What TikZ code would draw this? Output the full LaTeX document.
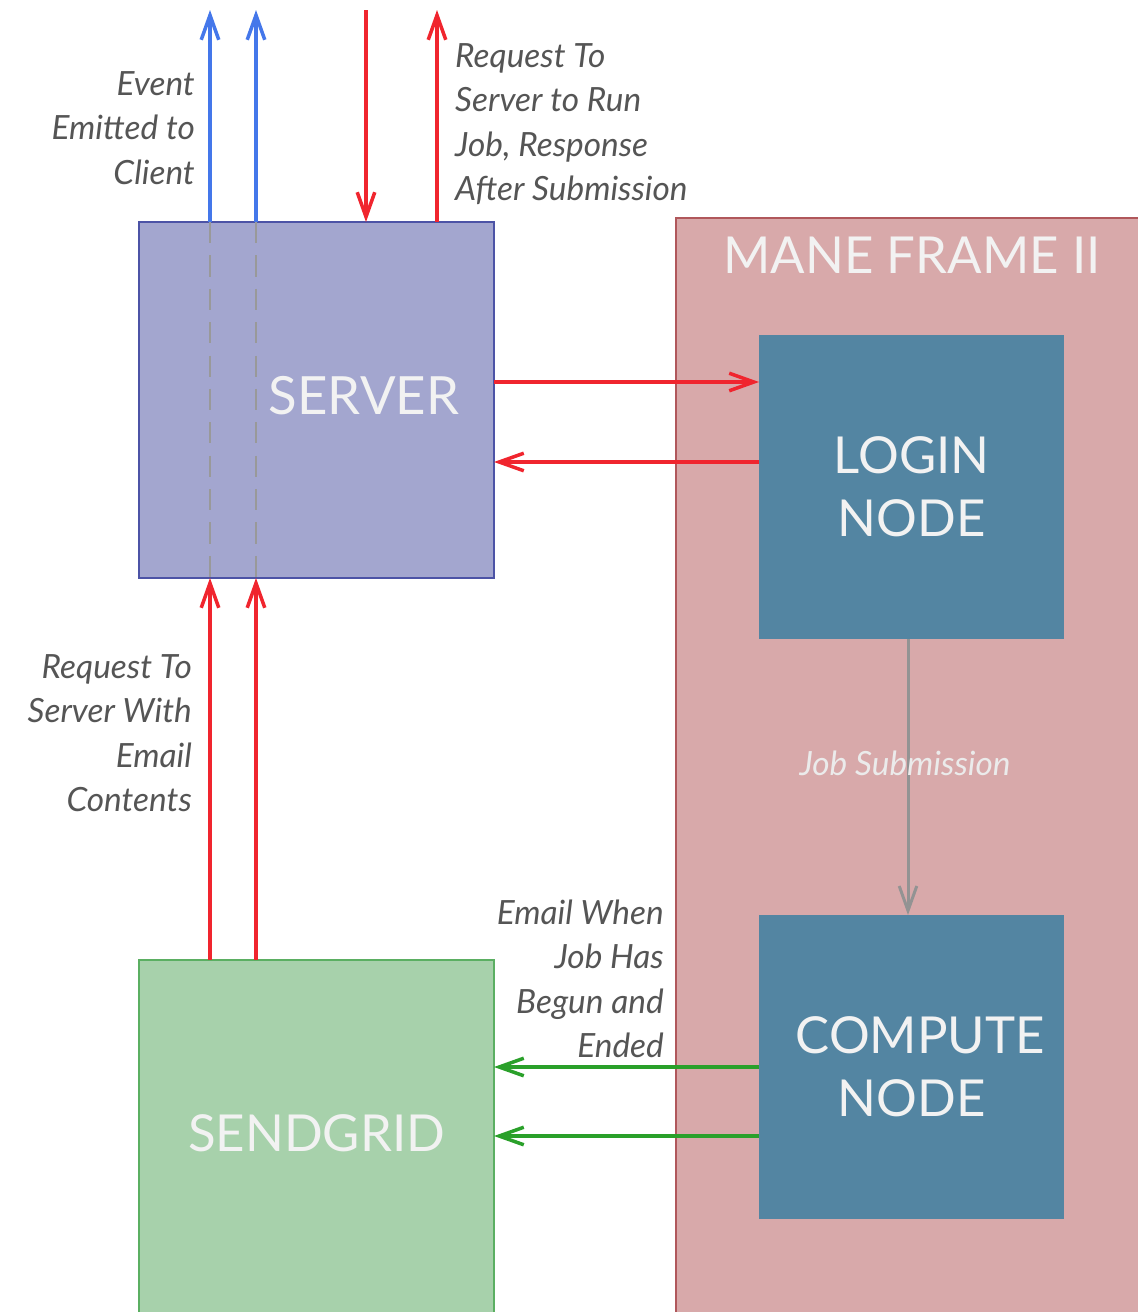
\documentclass[tikz,border=0pt]{standalone}
\usepackage{fontspec}
\setmainfont{Lato}
\usetikzlibrary{arrows.meta,positioning}
\definecolor{serverfill}{HTML}{A3A6CF}
\definecolor{serverline}{HTML}{4C53A6}
\definecolor{framefill}{HTML}{D8A9AA}
\definecolor{frameline}{HTML}{B0575B}
\definecolor{nodefill}{HTML}{5385A2}
\definecolor{gridfill}{HTML}{A7D1AB}
\definecolor{gridline}{HTML}{5BAF62}
\definecolor{eventblue}{HTML}{4477EA}
\definecolor{requestred}{HTML}{F0252E}
\definecolor{mailgreen}{HTML}{2AA02A}
\definecolor{labelgray}{HTML}{555555}

\begin{document}
\begin{tikzpicture}[x=0.02cm,y=-0.02cm]
% Box styles
\tikzstyle{big box}=[rectangle,draw,line width=0.8pt,inner sep=0,outer sep=0];
\tikzstyle{box text}=[text=white!95!black,font=\fontsize{29}{36}\selectfont,align=center];
\tikzstyle{note}=[text=labelgray,font=\itshape\fontsize{19}{25.3}\selectfont];
% Arrow styles
\tikzstyle{flow}=[line width=2pt,-{Straight Barb[length=14pt,width=10pt]}];
\tikzstyle{dash lane}=[gray!80,line width=1.4pt,dash pattern=on 12pt off 7pt];
\useasboundingbox (0,0) rectangle (1138,1312);
\clip (0,0) rectangle (1138,1312);
% The boxes
\node(server)[big box,draw=serverline,fill=serverfill,minimum width=7.1cm,minimum height=7.12cm] at (316.5,400){};
\node(server text)[box text] at (364,396){\fontsize{30}{36}\selectfont SERVER};
\node(mane)[big box,draw=frameline,fill=framefill,minimum width=9.48cm,minimum height=22.24cm] at (913,774){};
\node(mane text)[box text] at (912,255){MANE FRAME II};
\node(login)[big box,draw=none,fill=nodefill,minimum width=6.1cm,minimum height=6.08cm,box text] at (911.5,487){LOGIN\\NODE};
\node(compute)[big box,draw=none,fill=nodefill,minimum width=6.1cm,minimum height=6.08cm,box text] at (911.5,1067){\hspace{10pt}COMPUTE\\NODE};
\node(sendgrid)[big box,draw=gridline,fill=gridfill,minimum width=7.1cm,minimum height=7.4cm] at (316.5,1145){};
\node(sendgrid text)[box text] at (316.5,1133){SENDGRID};
% Lanes out of the server
\coordinate(top a) at (210,10);
\coordinate(top b) at (256,10);
\coordinate(top c) at (366,10);
\coordinate(top d) at (437,10);
\coordinate(row a) at (0,382);
\coordinate(row b) at (0,462);
\coordinate(row c) at (0,1067);
\coordinate(row d) at (0,1136);
\foreach \x in {a,b}
{\draw[dash lane](server.north -| top \x)--(server.south -| top \x);
\draw[flow,eventblue](server.north -| top \x)--(top \x);
\draw[flow,requestred](sendgrid.north -| top \x)--(server.south -| top \x);}
\draw[flow,requestred](top c)--(server.north -| top c);
\draw[flow,requestred](server.north -| top d)--(top d);
% Server and login node
\draw[flow,requestred](server.east |- row a)--(login.west |- row a);
\draw[flow,requestred](login.west |- row b)--(server.east |- row b);
\draw[flow,gray!85,line width=1.7pt](login.south -| 908,0)--(compute.north -| 908,0);
% Mails
\foreach \y in {c,d}
\draw[flow,mailgreen](compute.west |- row \y)--(sendgrid.east |- row \y);
% Labels
\node(event note)[note,align=right,anchor=east] at (201,128){Event\\Emitted to\\Client};
\node(run note)[note,align=left,anchor=west] at (449,124){Request To\\Server to Run\\Job, Response\\After Submission};
\node(mail note)[note,align=right,anchor=east] at (198,733){Request To\\Server With\\Email\\Contents};
\node(begun note)[note,align=right,anchor=east] at (670,979){Email When\\Job Has\\Begun and\\Ended};
\node(job note)[note,text=white!92!black] at (905,763){Job Submission};
\end{tikzpicture}
\end{document}
